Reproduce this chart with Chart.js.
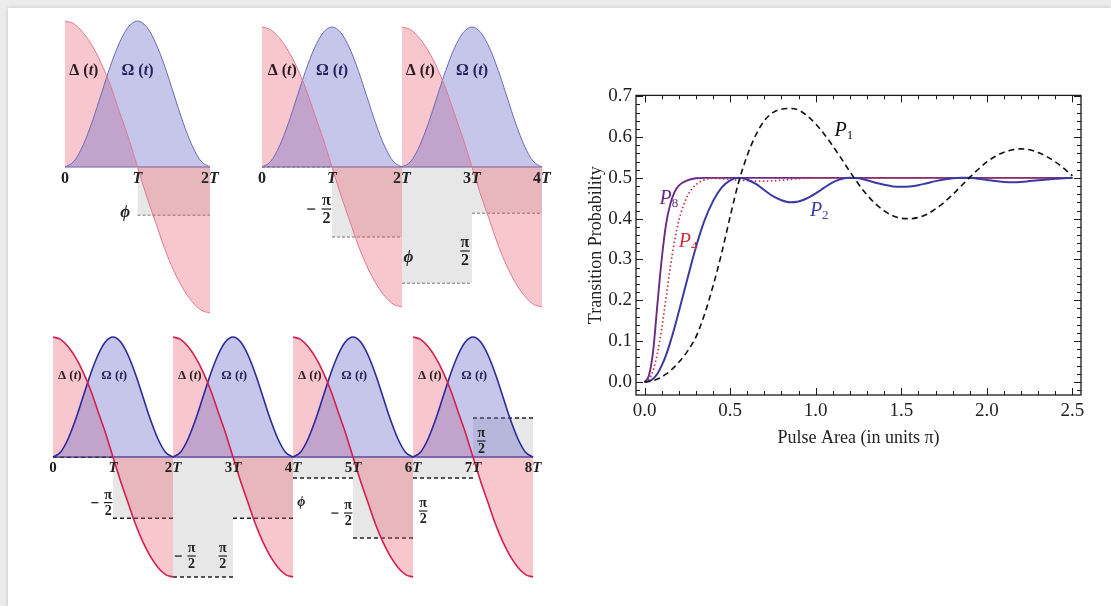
<!DOCTYPE html>
<html>
<head>
<meta charset="utf-8">
<script src="https://cdn.jsdelivr.net/npm/chart.js@4.4.0/dist/chart.umd.min.js"></script>
<style>
    html, body { margin: 0; padding: 0; background: #ececec; width: 1111px; height: 606px; overflow: hidden; }
    #card { position: absolute; left: 8px; top: 8px; width: 1103px; height: 598px; background: #fff; box-shadow: 0 0 4px rgba(0,0,0,0.18); }
    canvas { position: absolute; }
</style>
</head>
<body>
<div id="card"></div>
<canvas id="pulse-a" width="200" height="320" style="left:40px;top:10px;"></canvas>
<canvas id="pulse-b" width="320" height="320" style="left:245px;top:10px;"></canvas>
<canvas id="pulse-c" width="530" height="280" style="left:30px;top:320px;"></canvas>
<canvas id="prob-chart" width="516" height="385" style="left:575px;top:80px;"></canvas>
<script>
const SERIF = '"Liberation Serif", "Times New Roman", serif';

// One pulse on 0..2T, repeated along each sequence
const pulseT = [0, 0.125, 0.25, 0.375, 0.5, 0.625, 0.75, 0.875, 1, 1.125, 1.25, 1.375, 1.5, 1.625, 1.75, 1.875, 2];
const deltaShape = [1, 0.98, 0.92, 0.83, 0.71, 0.56, 0.38, 0.2, 0, -0.2, -0.38, -0.56, -0.71, -0.83, -0.92, -0.98, -1];
const omegaShape = [0, 0.04, 0.15, 0.31, 0.5, 0.69, 0.85, 0.96, 1, 0.96, 0.85, 0.69, 0.5, 0.31, 0.15, 0.04, 0];

// Phase level on each T interval, in units of the pulse height (null = none)
const phaseTopLeft = [null, -0.33];
const phaseTopRight = [0, -0.5, -0.83, -0.33];
const phaseBottom = [0, -0.51, -1.0, -0.51, -0.175, -0.675, -0.175, 0.325];

// Transition probability vs pulse area (units of pi)
const pulseArea = [0, 0.025, 0.05, 0.075, 0.1, 0.125, 0.15, 0.175, 0.2,
    0.25, 0.3, 0.35, 0.4, 0.45, 0.5, 0.55, 0.6, 0.65, 0.7,
    0.75, 0.8, 0.85, 0.9, 0.95, 1.0, 1.05, 1.1, 1.15, 1.2,
    1.25, 1.3, 1.35, 1.4, 1.45, 1.5, 1.55, 1.6, 1.65, 1.7,
    1.75, 1.8, 1.85, 1.9, 1.95, 2.0, 2.05, 2.1, 2.15, 2.2,
    2.25, 2.3, 2.35, 2.4, 2.45, 2.5];
const probP1 = [0, 0.001, 0.003, 0.007, 0.012, 0.019, 0.027, 0.037, 0.048,
    0.075, 0.11, 0.165, 0.235, 0.315, 0.405, 0.49, 0.555, 0.605, 0.64,
    0.66, 0.668, 0.67, 0.666, 0.652, 0.632, 0.607, 0.578, 0.547, 0.515,
    0.485, 0.458, 0.436, 0.419, 0.407, 0.401, 0.4, 0.403, 0.411, 0.424,
    0.44, 0.459, 0.48, 0.501, 0.521, 0.539, 0.553, 0.563, 0.569, 0.571,
    0.569, 0.562, 0.552, 0.539, 0.523, 0.505];
const probP2 = [0, 0.002, 0.008, 0.02, 0.04, 0.065, 0.097, 0.133, 0.172,
    0.252, 0.33, 0.395, 0.443, 0.476, 0.494, 0.5, 0.496, 0.485, 0.47,
    0.455, 0.445, 0.44, 0.442, 0.45, 0.462, 0.476, 0.489, 0.497, 0.5,
    0.499, 0.494, 0.488, 0.483, 0.479, 0.478, 0.479, 0.482, 0.487, 0.492,
    0.496, 0.499, 0.5, 0.5, 0.498, 0.495, 0.492, 0.49, 0.489, 0.49,
    0.492, 0.494, 0.496, 0.498, 0.499, 0.5];
const probP4 = [0, 0.006, 0.028, 0.07, 0.13, 0.205, 0.28, 0.345, 0.395,
    0.455, 0.483, 0.495, 0.499, 0.498, 0.496, 0.494, 0.493, 0.492, 0.492,
    0.493, 0.494, 0.496, 0.498, 0.499, 0.5, 0.5, 0.5, 0.5, 0.5,
    0.5, 0.5, 0.5, 0.5, 0.5, 0.5, 0.5, 0.5, 0.5, 0.5,
    0.5, 0.5, 0.5, 0.5, 0.5, 0.5, 0.5, 0.5, 0.5, 0.5,
    0.5, 0.5, 0.5, 0.5, 0.5, 0.5];
const probP8 = [0, 0.015, 0.075, 0.19, 0.3, 0.385, 0.435, 0.465, 0.481,
    0.494, 0.499, 0.5, 0.5, 0.5, 0.5, 0.5, 0.5, 0.5, 0.5,
    0.5, 0.5, 0.5, 0.5, 0.5, 0.5, 0.5, 0.5, 0.5, 0.5,
    0.5, 0.5, 0.5, 0.5, 0.5, 0.5, 0.5, 0.5, 0.5, 0.5,
    0.5, 0.5, 0.5, 0.5, 0.5, 0.5, 0.5, 0.5, 0.5, 0.5,
    0.5, 0.5, 0.5, 0.5, 0.5, 0.5];
const areaTicks = [0, 0.5, 1, 1.5, 2, 2.5];
const probTicks = [0, 0.1, 0.2, 0.3, 0.4, 0.5, 0.6, 0.7];

const DELTA_FILL = 'rgba(235, 85, 105, 0.33)';
const OMEGA_FILL = 'rgba(105, 105, 200, 0.38)';
const GREY_FILL = 'rgba(120, 120, 120, 0.18)';
const NONE = 'rgba(0,0,0,0)';

// draw a run of differently styled text pieces, vertically centred on y
function drawParts(ctx, parts, x, y, align) {
    let total = 0;
    parts.forEach(p => { ctx.font = p.font; p.w = ctx.measureText(p.text).width; total += p.w; });
    let cx = align === 'left' ? x : x - total / 2;
    ctx.textAlign = 'left';
    ctx.textBaseline = 'middle';
    parts.forEach(p => {
        ctx.font = p.font;
        ctx.fillStyle = p.color || '#222';
        ctx.fillText(p.text, cx, y + (p.dy || 0));
        cx += p.w;
    });
}

function drawFrac(ctx, cx, cy, neg, size) {
    ctx.save();
    ctx.fillStyle = '#222';
    ctx.font = `bold ${size}px ${SERIF}`;
    ctx.textAlign = 'center';
    ctx.textBaseline = 'middle';
    ctx.fillText('π', cx, cy - 0.52 * size);
    ctx.fillText('2', cx, cy + 0.62 * size);
    ctx.fillRect(cx - 0.3 * size, cy - 0.6, 0.6 * size, 1.2);
    if (neg) ctx.fillRect(cx - 1.2 * size, cy - 0.6, 0.5 * size, 1.3);
    ctx.restore();
}

function buildPanel(id, nPulses, phases, look, notes) {
    const nT = nPulses * 2;
    const lines = [], omegaFills = [], deltaFills = [], greys = [];

    for (let k = 0; k < nPulses; k++) {
        const dPts = pulseT.map((t, i) => ({ x: 2 * k + t, y: deltaShape[i] }));
        const oPts = pulseT.map((t, i) => ({ x: 2 * k + t, y: omegaShape[i] }));
        lines.push({ data: dPts, borderColor: look.deltaLine, borderWidth: look.lw, fill: false, clip: false });
        lines.push({ data: oPts, borderColor: look.omegaLine, borderWidth: look.lw, fill: false, clip: false });
        omegaFills.push({ data: oPts, borderColor: NONE, borderWidth: 1, backgroundColor: OMEGA_FILL, fill: 'origin', clip: false });
        deltaFills.push({ data: dPts, borderColor: NONE, borderWidth: 1, backgroundColor: DELTA_FILL, fill: 'origin', clip: false });
    }

    phases.forEach((lvl, k) => {
        if (lvl === null) return;
        greys.push({
            data: [{ x: k, y: lvl }, { x: k + 1, y: lvl }],
            borderColor: look.dash, borderWidth: look.dashW, borderDash: look.dashPattern,
            backgroundColor: GREY_FILL, fill: 'origin', tension: 0, cubicInterpolationMode: 'default', clip: false
        });
    });

    const decor = {
        id: 'decor',
        beforeDatasetsDraw(chart) {
            const { ctx, scales: { x, y } } = chart;
            ctx.save();
            ctx.strokeStyle = look.axis;
            ctx.lineWidth = look.axisW;
            ctx.beginPath();
            ctx.moveTo(x.getPixelForValue(0), y.getPixelForValue(0));
            ctx.lineTo(x.getPixelForValue(nT), y.getPixelForValue(0));
            ctx.stroke();
            ctx.restore();
        },
        afterDatasetsDraw(chart) {
            const { ctx, scales: { x, y } } = chart;
            const f = look.font;
            ctx.save();
            // 0, T, 2T ... under the axis
            for (let k = 0; k <= nT; k++) {
                const parts = [];
                if (k === 0) parts.push({ text: '0', font: `bold ${look.tickFont}px ${SERIF}` });
                else {
                    if (k > 1) parts.push({ text: String(k), font: `bold ${look.tickFont}px ${SERIF}` });
                    parts.push({ text: 'T', font: `bold italic ${look.tickFont}px ${SERIF}` });
                }
                drawParts(ctx, parts, x.getPixelForValue(k), y.getPixelForValue(0) + look.tickGap, 'center');
            }
            notes.forEach(n => {
                const px = x.getPixelForValue(n.x), py = y.getPixelForValue(n.y);
                if (n.kind === 'delta') {
                    drawParts(ctx, [
                        { text: 'Δ', font: `bold ${f}px ${SERIF}`, color: '#2a1c22' },
                        { text: ' (', font: `bold ${f}px ${SERIF}`, color: '#2a1c22' },
                        { text: 't', font: `bold italic ${f}px ${SERIF}`, color: '#2a1c22' },
                        { text: ')', font: `bold ${f}px ${SERIF}`, color: '#2a1c22' }
                    ], px, py, 'center');
                } else if (n.kind === 'omega') {
                    drawParts(ctx, [
                        { text: 'Ω', font: `bold ${f}px ${SERIF}`, color: '#23235e' },
                        { text: ' (', font: `bold ${f}px ${SERIF}`, color: '#23235e' },
                        { text: 't', font: `bold italic ${f}px ${SERIF}`, color: '#23235e' },
                        { text: ')', font: `bold ${f}px ${SERIF}`, color: '#23235e' }
                    ], px, py, 'center');
                } else if (n.kind === 'phi') {
                    drawParts(ctx, [{ text: 'ϕ', font: `bold italic ${f + 1}px ${SERIF}` }], px, py, 'center');
                } else {
                    drawFrac(ctx, px, py, n.neg, look.fracFont);
                }
            });
            ctx.restore();
        }
    };

    new Chart(document.getElementById(id), {
        type: 'line',
        data: { datasets: [...lines, ...omegaFills, ...deltaFills, ...greys] },
        options: {
            responsive: false,
            animation: false,
            events: [],
            layout: { padding: look.pad },
            elements: { point: { radius: 0 }, line: { cubicInterpolationMode: 'monotone' } },
            scales: {
                x: { type: 'linear', min: 0, max: nT, display: false },
                y: { type: 'linear', min: -1, max: 1, display: false }
            },
            plugins: { legend: { display: false }, tooltip: { enabled: false } }
        },
        plugins: [decor]
    });
}

const topLook = {
    deltaLine: '#e07890', omegaLine: '#6a6ab8', lw: 1,
    dash: '#777', dashW: 1, dashPattern: [3, 2],
    axis: '#6a5aa0', axisW: 1,
    font: 16, tickFont: 16, fracFont: 16, tickGap: 12
};
const bottomLook = {
    deltaLine: '#d21f4f', omegaLine: '#2a2a9c', lw: 1.6,
    dash: '#222', dashW: 1.4, dashPattern: [4, 3],
    axis: '#3535a0', axisW: 1.5,
    font: 13, tickFont: 15, fracFont: 14, tickGap: 11
};

buildPanel('pulse-a', 1, phaseTopLeft, { ...topLook, pad: { left: 25, right: 30, top: 11, bottom: 17 } }, [
    { kind: 'delta', x: 0.26, y: 0.66 },
    { kind: 'omega', x: 1.0, y: 0.66 },
    { kind: 'phi', x: 0.83, y: -0.315 }
]);

buildPanel('pulse-b', 2, phaseTopRight, { ...topLook, pad: { left: 17, right: 23, top: 17, bottom: 23 } }, [
    { kind: 'delta', x: 0.29, y: 0.686 },
    { kind: 'omega', x: 1.0, y: 0.686 },
    { kind: 'delta', x: 2.26, y: 0.686 },
    { kind: 'omega', x: 3.0, y: 0.686 },
    { kind: 'frac', x: 0.92, y: -0.3, neg: true },
    { kind: 'phi', x: 2.09, y: -0.65 },
    { kind: 'frac', x: 2.9, y: -0.6 }
]);

buildPanel('pulse-c', 4, phaseBottom, { ...bottomLook, pad: { left: 23, right: 27, top: 17, bottom: 23 } }, [
    { kind: 'delta', x: 0.28, y: 0.68 }, { kind: 'omega', x: 1.02, y: 0.68 },
    { kind: 'delta', x: 2.28, y: 0.68 }, { kind: 'omega', x: 3.02, y: 0.68 },
    { kind: 'delta', x: 4.28, y: 0.68 }, { kind: 'omega', x: 5.02, y: 0.68 },
    { kind: 'delta', x: 6.28, y: 0.68 }, { kind: 'omega', x: 7.02, y: 0.68 },
    { kind: 'frac', x: 0.92, y: -0.38, neg: true },
    { kind: 'frac', x: 2.31, y: -0.825, neg: true },
    { kind: 'frac', x: 2.83, y: -0.825 },
    { kind: 'phi', x: 4.14, y: -0.38 },
    { kind: 'frac', x: 4.92, y: -0.467, neg: true },
    { kind: 'frac', x: 6.17, y: -0.45 },
    { kind: 'frac', x: 7.14, y: 0.133 }
]);

// ---- right: transition probability ----
const curveLabels = [
    { name: '1', x: 1.11, y: 0.615, color: '#111' },
    { name: '8', x: 0.088, y: 0.449, color: '#6b2a86' },
    { name: '4', x: 0.2, y: 0.343, color: '#c8323c' },
    { name: '2', x: 0.966, y: 0.419, color: '#3b3ba3' }
];

const probFrame = {
    id: 'probFrame',
    afterDraw(chart) {
        const { ctx, chartArea: a, scales: { x, y } } = chart;
        ctx.save();
        ctx.strokeStyle = '#1a1a1a';
        ctx.lineWidth = 1.3;
        ctx.strokeRect(a.left, a.top, a.right - a.left, a.bottom - a.top);

        // inward ticks on all four sides
        ctx.lineWidth = 1;
        ctx.beginPath();
        for (let v = 0; v <= 2.501; v += 0.1) {
            const px = Math.round(x.getPixelForValue(v)) + 0.5;
            const len = areaTicks.some(t => Math.abs(t - v) < 1e-6) ? 7 : 4;
            ctx.moveTo(px, a.bottom); ctx.lineTo(px, a.bottom - len);
            ctx.moveTo(px, a.top); ctx.lineTo(px, a.top + len);
        }
        for (let v = -0.02; v <= 0.701; v += 0.02) {
            const py = Math.round(y.getPixelForValue(v)) + 0.5;
            const len = probTicks.some(t => Math.abs(t - v) < 1e-6) ? 7 : 4;
            ctx.moveTo(a.left, py); ctx.lineTo(a.left + len, py);
            ctx.moveTo(a.right, py); ctx.lineTo(a.right - len, py);
        }
        ctx.stroke();

        // axis titles
        ctx.fillStyle = '#222';
        ctx.font = `18px ${SERIF}`;
        ctx.textAlign = 'center';
        ctx.textBaseline = 'middle';
        ctx.fillText('Pulse Area (in units π)', (a.left + a.right) / 2, a.bottom + 43);
        ctx.save();
        ctx.translate(a.left - 40, (a.top + a.bottom) / 2);
        ctx.rotate(-Math.PI / 2);
        ctx.fillText('Transition Probability', 0, 0);
        ctx.restore();

        // P_n labels
        curveLabels.forEach(l => {
            drawParts(ctx, [
                { text: 'P', font: `italic 20px ${SERIF}`, color: l.color },
                { text: l.name, font: `13px ${SERIF}`, color: l.color, dy: 5 }
            ], x.getPixelForValue(l.x), y.getPixelForValue(l.y), 'left');
        });
        ctx.restore();
    }
};

const toPoints = series => pulseArea.map((v, i) => ({ x: v, y: series[i] }));

new Chart(document.getElementById('prob-chart'), {
    type: 'line',
    data: {
        datasets: [
            { label: 'P1', data: toPoints(probP1), borderColor: '#111', borderWidth: 1.6, borderDash: [6, 4] },
            { label: 'P2', data: toPoints(probP2), borderColor: '#3b3ba3', borderWidth: 2 },
            { label: 'P4', data: toPoints(probP4), borderColor: '#c8323c', borderWidth: 1.7, borderDash: [1.5, 2.5] },
            { label: 'P8', data: toPoints(probP8), borderColor: '#6b2a86', borderWidth: 1.9 }
        ]
    },
    options: {
        responsive: false,
        animation: false,
        events: [],
        layout: { padding: { left: 5, right: 10, top: 15, bottom: 0 } },
        elements: { point: { radius: 0 }, line: { cubicInterpolationMode: 'monotone', fill: false } },
        scales: {
            x: {
                type: 'linear', min: -0.05, max: 2.55,
                afterBuildTicks: s => { s.ticks = areaTicks.map(v => ({ value: v })); },
                afterFit: s => { s.height = 70; },
                grid: { display: false, drawTicks: false },
                border: { display: false },
                ticks: { padding: 5, color: '#222', font: { family: SERIF, size: 19 }, maxRotation: 0, callback: v => v.toFixed(1) }
            },
            y: {
                type: 'linear', min: -0.032, max: 0.702,
                afterBuildTicks: s => { s.ticks = probTicks.map(v => ({ value: v })); },
                afterFit: s => { s.width = 56; },
                grid: { display: false, drawTicks: false },
                border: { display: false },
                ticks: { padding: 4, color: '#222', font: { family: SERIF, size: 19 }, callback: v => v.toFixed(1) }
            }
        },
        plugins: { legend: { display: false }, tooltip: { enabled: false } }
    },
    plugins: [probFrame]
});
</script>
</body>
</html>
